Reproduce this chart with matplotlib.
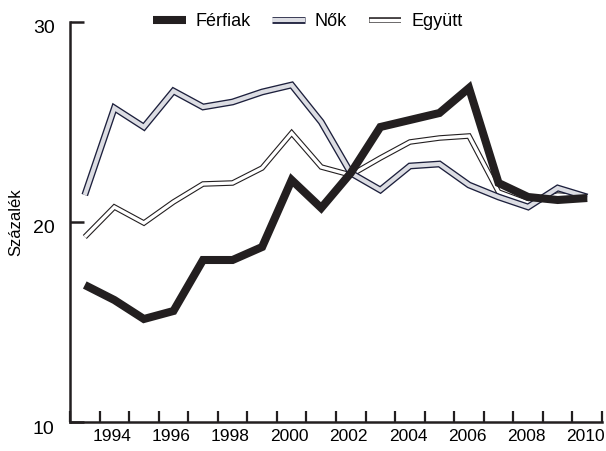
import matplotlib
matplotlib.use("Agg")
import matplotlib.pyplot as plt
import matplotlib.patheffects as pe
import matplotlib.transforms as mtransforms
import numpy as np

plt.rcParams['font.family'] = ['Liberation Sans', 'DejaVu Sans']

years = list(range(1993, 2011))
ferfiak = [16.85, 16.1, 15.15, 15.55, 18.1, 18.1, 18.75, 22.1, 20.7, 22.45,
           24.75, 25.1, 25.45, 26.7, 21.95, 21.25, 21.1, 21.2]
nok = [21.35, 25.7, 24.75, 26.55, 25.75, 26.0, 26.5, 26.85, 25.0, 22.45,
       21.6, 22.8, 22.9, 21.85, 21.25, 20.75, 21.7, 21.25]
egyutt = [19.25, 20.75, 19.95, 21.0, 21.9, 21.95, 22.7, 24.45, 22.75, 22.35,
          23.2, 24.0, 24.2, 24.3, 21.5, 20.95, 21.35, 21.25]
labels = ['Férfiak', 'Nők', 'Együtt']
y_ticks = [10, 20, 30]
x_label_years = list(range(1994, 2011, 2))

dark = '#231f20'
navy = '#1c1f3c'

fig = plt.figure(figsize=(6.06, 4.51), dpi=100)
ax = fig.add_axes([70 / 606, 29 / 451, 532 / 606, 400 / 451])

ax.plot(years, egyutt, color='white', lw=2.4, solid_joinstyle='miter',
        solid_capstyle='butt', label=labels[2],
        path_effects=[pe.Stroke(linewidth=4.0, foreground=dark), pe.Normal()])
ax.plot(years, nok, color='#dcdde3', lw=3.0, solid_joinstyle='miter',
        solid_capstyle='butt', label=labels[1],
        path_effects=[pe.Stroke(linewidth=4.9, foreground=navy), pe.Normal()])
ax.plot(years, ferfiak, color=dark, lw=5.8, solid_joinstyle='miter',
        solid_capstyle='butt', label=labels[0])

ax.set_xlim(1992.5, 2010.5)
ax.set_ylim(10, 30)

for s in ['top', 'right']:
    ax.spines[s].set_visible(False)
for s in ['left', 'bottom']:
    ax.spines[s].set_linewidth(1.8)
    ax.spines[s].set_color(dark)

ax.set_xticks(np.arange(1992.5, 2011, 1))
ax.set_xticklabels([])
ax.set_xticks(x_label_years, minor=True)
ax.set_xticklabels([str(y) for y in x_label_years], minor=True)
ax.tick_params(axis='x', which='major', direction='in', length=8, width=1.6, color=dark)
ax.tick_params(axis='x', which='minor', length=0, pad=5, labelsize=12.5)
xoff = mtransforms.ScaledTranslation(-2 / 100, 0, fig.dpi_scale_trans)
for lab in ax.get_xticklabels(minor=True):
    lab.set_transform(lab.get_transform() + xoff)

ax.set_yticks(y_ticks)
ax.set_yticklabels([str(v) for v in y_ticks])
ax.tick_params(axis='y', direction='in', length=10, width=1.8, color=dark,
               pad=11, labelsize=14)
off = mtransforms.ScaledTranslation(0, -5 / 100, fig.dpi_scale_trans)
for lab in ax.get_yticklabels():
    lab.set_transform(lab.get_transform() + off)

ax.set_ylabel('Százalék', fontsize=12, labelpad=7)

handles, labs = ax.get_legend_handles_labels()
order = [2, 1, 0]
ax.legend([handles[i] for i in order], [labs[i] for i in order],
          loc='center', bbox_to_anchor=(0.447, 1.0), ncol=3,
          frameon=False, fontsize=13, handlelength=1.8, handletextpad=0.55,
          columnspacing=1.2, borderpad=0, borderaxespad=0)

fig.savefig('out.png', dpi=100)
